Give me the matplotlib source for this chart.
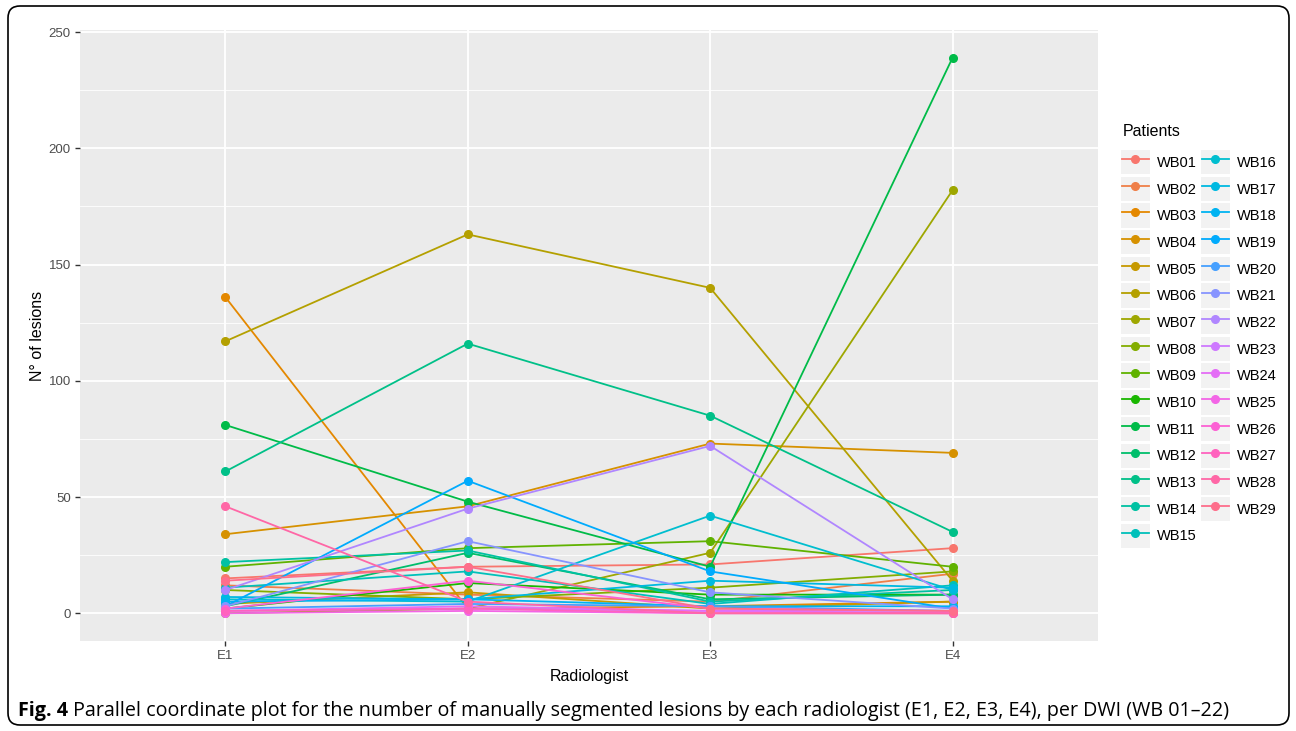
import numpy as np
import matplotlib
matplotlib.use("Agg")
import matplotlib.pyplot as plt
from matplotlib.legend_handler import HandlerLine2D
from matplotlib.patches import Rectangle, FancyBboxPatch
from matplotlib.transforms import IdentityTransform

plt.rcParams['font.family'] = ['Liberation Sans', 'DejaVu Sans']

# Datos
radiologos = ["E1", "E2", "E3", "E4"]
pacientes = ["WB%02d" % i for i in range(1, 30)]
lesiones = [
    [15, 20, 21, 28],     # WB01
    [12, 8, 5, 17],       # WB02
    [136, 2, 3, 5],       # WB03
    [34, 46, 73, 69],     # WB04
    [4, 9, 2, 5],         # WB05
    [117, 163, 140, 14],  # WB06
    [0, 2, 26, 182],      # WB07
    [10, 6, 11, 18],      # WB08
    [20, 28, 31, 20],     # WB09
    [2, 13, 8, 8],        # WB10
    [81, 48, 20, 239],    # WB11
    [3, 26, 6, 8],        # WB12
    [61, 116, 85, 35],    # WB13
    [22, 27, 5, 10],      # WB14
    [11, 18, 4, 12],      # WB15
    [6, 5, 42, 10],       # WB16
    [7, 6, 14, 11],       # WB17
    [5, 6, 3, 3],         # WB18
    [3, 57, 18, 2],       # WB19
    [2, 4, 3, 1],         # WB20
    [3, 31, 9, 2],        # WB21
    [10, 45, 72, 6],      # WB22
    [1, 2, 1, 1],         # WB23
    [1, 3, 1, 0],         # WB24
    [0, 1, 0, 0],         # WB25
    [2, 14, 2, 1],        # WB26
    [1, 2, 0, 0],         # WB27
    [46, 5, 0, 0],        # WB28
    [14, 20, 2, 1],       # WB29
]


# Paleta hue de ggplot (hcl con c=100, l=65)
def hcl_a_rgb(h, c=100.0, l=65.0):
    h = np.deg2rad(h)
    u = c * np.cos(h)
    v = c * np.sin(h)
    xn, yn = 0.3127, 0.3290
    un = 4 * xn / (-2 * xn + 12 * yn + 3)
    vn = 9 * yn / (-2 * xn + 12 * yn + 3)
    Y = ((l + 16) / 116) ** 3
    up = u / (13 * l) + un
    vp = v / (13 * l) + vn
    X = Y * 9 * up / (4 * vp)
    Z = Y * (12 - 3 * up - 20 * vp) / (4 * vp)
    m = np.array([[3.2406, -1.5372, -0.4986],
                  [-0.9689, 1.8758, 0.0415],
                  [0.0557, -0.2040, 1.0570]])
    rgb = m @ np.array([X, Y, Z])
    rgb = np.where(rgb <= 0.0031308, 12.92 * rgb, 1.055 * np.clip(rgb, 0, None) ** (1 / 2.4) - 0.055)
    return tuple(np.clip(rgb, 0, 1))


n = len(pacientes)
colores = [hcl_a_rgb(15 + 360 * i / n) for i in range(n)]


class ClaveGris(HandlerLine2D):
    # Añade el fondo gris de la clave de leyenda al estilo ggplot
    def create_artists(self, legend, orig_handle, xdescent, ydescent,
                       width, height, fontsize, trans):
        fondo = Rectangle((-xdescent - 1, -ydescent - 1), width + 2, height + 2,
                          facecolor='#F2F2F2', edgecolor='none', transform=trans)
        arts = super().create_artists(legend, orig_handle, xdescent, ydescent,
                                      width, height, fontsize, trans)
        return [fondo] + list(arts)


fig = plt.figure(figsize=(12.96, 7.31), dpi=100)
ax = fig.add_axes([0.0617, 0.1231, 0.7855, 0.8359])
ax.set_facecolor('#EBEBEB')

x = np.arange(1, len(radiologos) + 1)
for nombre, vals, col in zip(pacientes, lesiones, colores):
    ax.plot(x, vals, color=col, lw=1.3, marker='o', ms=5.5, label=nombre)

ymax = max(max(v) for v in lesiones)
ax.set_xlim(0.4, len(radiologos) + 0.6)
ax.set_ylim(-0.05 * ymax, ymax * 1.05)
ax.set_xticks(x)
ax.set_xticklabels(radiologos)
ax.set_yticks([0, 50, 100, 150, 200, 250])
ax.set_yticks([25, 75, 125, 175, 225], minor=True)
ax.grid(True, which='major', color='white', lw=1.3)
ax.grid(True, which='minor', axis='y', color='white', lw=0.6)
ax.set_axisbelow(True)
for s in ax.spines.values():
    s.set_visible(False)
ax.tick_params(which='major', length=3.5, width=1, color='#333333',
               labelcolor='#4D4D4D', labelsize=9.5, pad=3)
ax.tick_params(which='minor', length=0)
ax.set_xlabel("Radiologist", fontsize=11.5, labelpad=5)
ax.set_ylabel("N° of lesions", fontsize=11.5, labelpad=3)

leg = ax.legend(ncol=2, loc='upper left', bbox_to_anchor=(0.857, 0.8465),
                bbox_transform=fig.transFigure, frameon=False, title="Patients",
                fontsize=10.5, title_fontsize=11.5, handlelength=1.8,
                handleheight=1.9, labelspacing=0.35, columnspacing=0.4,
                handletextpad=0.55, alignment='left', borderpad=0.3,
                handler_map={plt.Line2D: ClaveGris()})
leg._legend_box.sep = 9

# Marco redondeado y pie de figura
marco = FancyBboxPatch((8, 6), 1281, 719, boxstyle='round,pad=0,rounding_size=12',
                       transform=IdentityTransform(), facecolor='none',
                       edgecolor='black', lw=1.2)
fig.add_artist(marco)

t1 = fig.text(18 / 1296, 1 - 711 / 731, "Fig. 4", fontsize=14.2, fontweight='bold',
              family=['Open Sans', 'DejaVu Sans'], va='center')
fig.add_artist(plt.Annotation(
    " Parallel coordinate plot for the number of manually segmented lesions by each "
    "radiologist (E1, E2, E3, E4), per DWI (WB 01\u201322)",
    xy=(1, 0), xycoords=t1, va='bottom', fontsize=14.2,
    family=['Open Sans', 'DejaVu Sans']))

fig.savefig("out.png", dpi=100)
